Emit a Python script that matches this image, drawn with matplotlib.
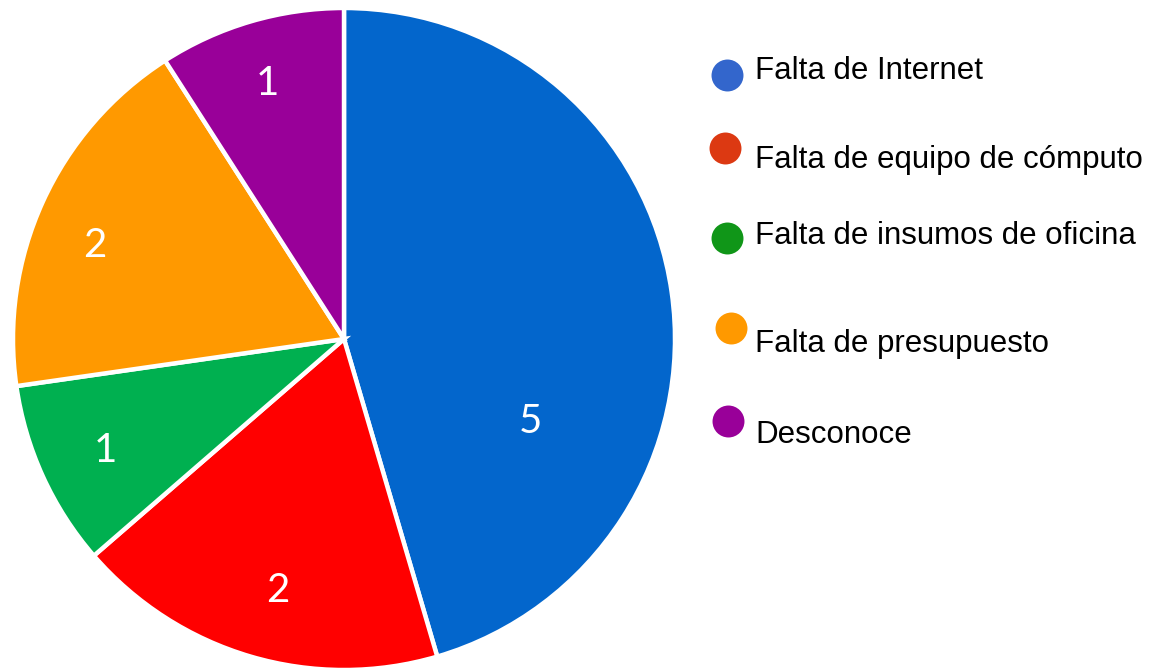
"""Pie chart of reported causes, with a hand-placed legend on the right."""

import matplotlib.pyplot as plt
import numpy as np

categories = [
    "Falta de Internet",
    "Falta de equipo de cómputo",
    "Falta de insumos de oficina",
    "Falta de presupuesto",
    "Desconoce",
]
counts = [5, 2, 1, 2, 1]

slice_colors = ["#0366cc", "#ff0000", "#00b050", "#ff9900", "#990099"]
legend_colors = ["#3366cc", "#dc3912", "#109618", "#ff9900", "#990099"]

# label placement inside each wedge: (fraction of radius, angle in degrees)
label_spots = [(0.61, -22.5), (0.77, -105.0), (0.79, -156.0), (0.81, 158.5), (0.82, 106.3)]
label_drop = 5  # nudge the numbers down a little, in pixels

# legend rows in pixel coordinates (origin bottom-left)
marker_xy = [(727, 597), (725, 524), (727, 434), (731, 344), (728, 251)]
text_xy = [(755, 593), (755, 504), (755, 428), (755, 320), (755, 229)]

W, H = 1156, 672
fig = plt.figure(figsize=(W / 100, H / 100), dpi=100)
ax = fig.add_axes([0, 0, 1, 1])

center = (344, 333)
radius = 331
ax.pie(
    counts,
    colors=slice_colors,
    startangle=90,
    counterclock=False,
    center=center,
    radius=radius,
    wedgeprops={"edgecolor": "white", "linewidth": 3.2},
    frame=True,
)
ax.set_xlim(0, W)
ax.set_ylim(0, H)
ax.set_aspect("equal")
ax.axis("off")

for value, (frac, ang) in zip(counts, label_spots):
    x = center[0] + frac * radius * np.cos(np.radians(ang))
    y = center[1] + frac * radius * np.sin(np.radians(ang)) - label_drop
    ax.text(x, y, str(value), color="white", fontsize=29, family="Lato",
            ha="center", va="center")

for name, color, (mx, my), (tx, ty) in zip(categories, legend_colors, marker_xy, text_xy):
    ax.plot(mx, my, "o", color=color, markersize=23, markeredgewidth=0)
    ax.text(tx, ty, name, fontsize=22.5, family="Liberation Sans",
            ha="left", va="baseline", color="black")

fig.savefig("out.png", dpi=100)
